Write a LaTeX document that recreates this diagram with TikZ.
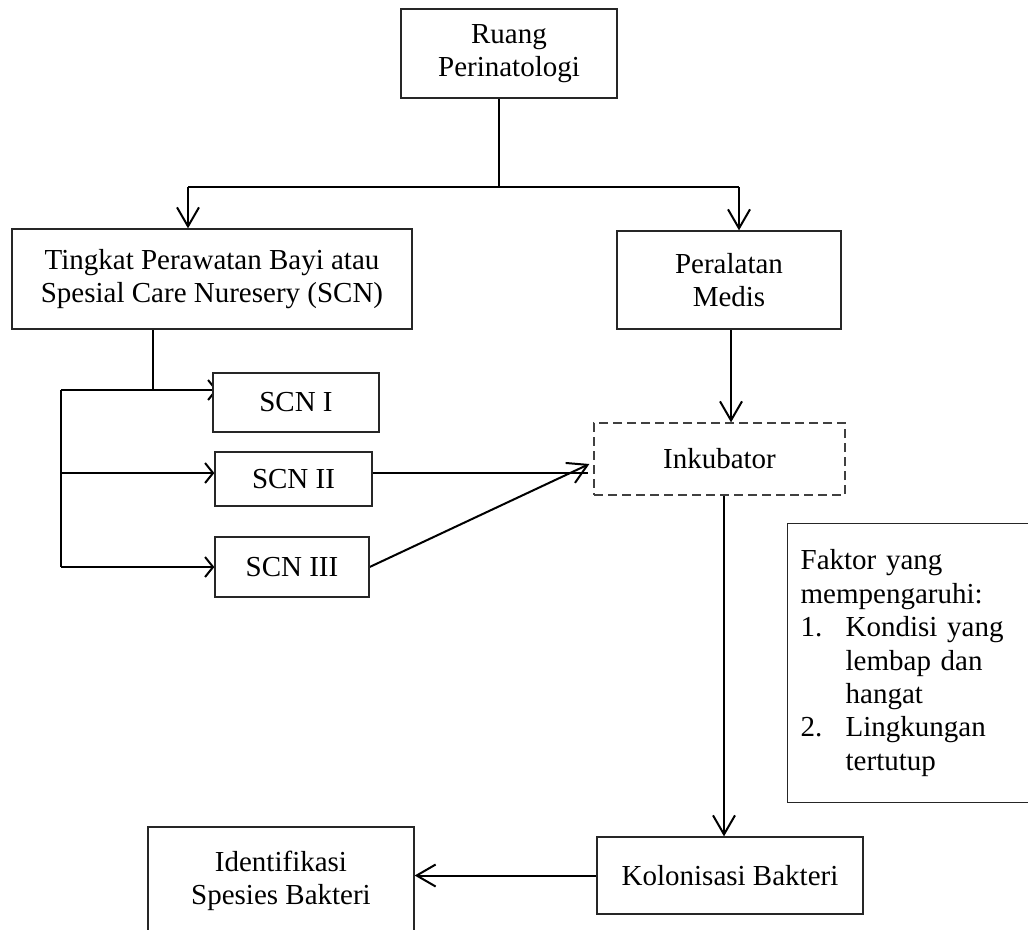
\documentclass[tikz,border=0pt]{standalone}
\usepackage{fontspec}
\setmainfont{Liberation Serif}
\usetikzlibrary{arrows.meta,backgrounds}
\newcommand\myfs{\fontsize{29}{33.4}\selectfont}
\begin{document}
\begin{tikzpicture}[x=1pt,y=-1pt,
  box/.style={draw=black!85,line width=1.3pt,fill=white,align=center,font=\myfs,inner sep=0pt},
  dbox/.style={box,dashed,dash pattern=on 9pt off 5pt,draw=black!75},
  arr/.style={line width=2pt,-{Straight Barb[length=19pt,width=22pt,line width=2pt]}},
  sarr/.style={line width=2.4pt,-{Straight Barb[length=8pt,width=20pt,line width=2pt]}},
  thin/.style={line width=1.3pt},
  mid/.style={line width=1.6pt}]
\useasboundingbox (0,0) rectangle (1028,929);

% nodes
\node[box,minimum width=216pt,minimum height=89pt] (ruang) at (509,53.5) {Ruang\\Perinatologi};
\node[box,minimum width=400pt,minimum height=100pt] (tingkat) at (212,279) {Tingkat Perawatan Bayi atau\\Spesial Care Nuresery (SCN)};
\node[box,minimum width=224pt,minimum height=98pt] (peralatan) at (729,280) {Peralatan\\Medis};
\node[box,minimum width=166pt,minimum height=59pt] (scn1) at (296,402.5) {SCN I};
\node[box,minimum width=157pt,minimum height=54pt] (scn2) at (293.5,479) {SCN II};
\node[box,minimum width=154pt,minimum height=60pt] (scn3) at (292,567) {SCN III};
\node[dbox,minimum width=251pt,minimum height=72pt] (inkubator) at (719.5,459) {Inkubator};
\node[box,anchor=north west,minimum height=279pt,text width=232pt,inner xsep=13pt,inner ysep=0pt,align=left] (faktor) at (787,523)
  {Faktor yang\\
   mempengaruhi:\\
   \makebox[45pt][l]{1.}Kondisi yang\\
   \hspace*{45pt}lembap dan\\
   \hspace*{45pt}hangat\\
   \makebox[45pt][l]{2.}Lingkungan\\
   \hspace*{45pt}tertutup};
\node[box,minimum width=266pt,minimum height=77pt] (kolonisasi) at (730,875.5) {Kolonisasi Bakteri};
\node[box,minimum width=266pt,minimum height=108pt] (identifikasi) at (281,881) {Identifikasi\\Spesies Bakteri};

% junction coordinates
\coordinate (j1) at (499,187);
\coordinate (tl) at (188,187);
\coordinate (tr) at (739,187);
\coordinate (b0) at (153,390);
\coordinate (bt) at (61,390);
\coordinate (bm) at (61,473);
\coordinate (bb) at (61,567);
\coordinate (k2) at (588,473);
\coordinate (c1) at (731,0);
\coordinate (c2) at (724,0);

\begin{scope}[on background layer]
\draw[thin] (ruang.south -| j1) -- (j1);
\draw[mid] (tl) -- (tr);
\draw[arr] (tl) -- (tl |- tingkat.north);
\draw[arr] (tr) -- (tr |- peralatan.north);
\draw[thin] (b0 |- tingkat.south) -- (b0);
\draw[thin] (bt) -- (bb);
\draw[sarr] (bt) -- ([xshift=5pt]scn1.west |- bt);
\draw[sarr] (bm) -- (scn2.west |- bm);
\draw[sarr] (bb) -- (scn3.west |- bb);
\draw[thin] (scn2.east |- bm) -- (k2);
\draw[arr] (scn3.east |- bb) -- ([xshift=-4pt,yshift=-5pt]inkubator.west);
\draw[arr] (peralatan.south -| c1) -- (inkubator.north -| c1);
\draw[arr] (inkubator.south -| c2) -- (kolonisasi.north -| c2);
\draw[arr] (kolonisasi.west) -- (identifikasi.east |- kolonisasi.west);
\end{scope}
\end{tikzpicture}
\end{document}
